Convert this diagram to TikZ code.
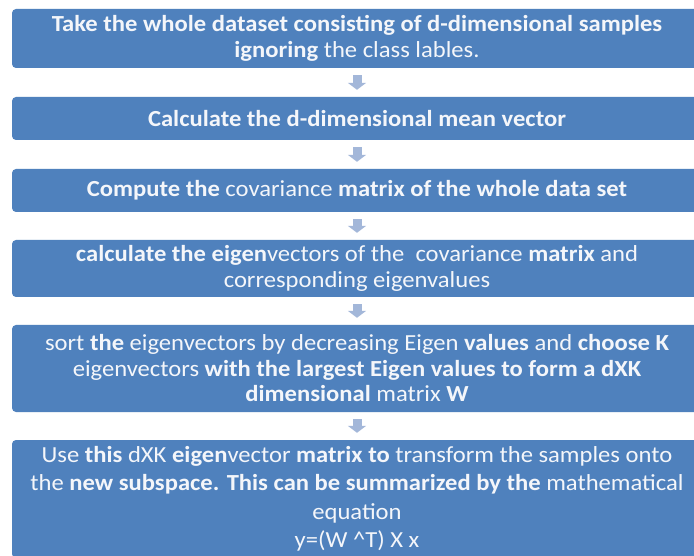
\documentclass[tikz,border=0pt]{standalone}
\usepackage{fontspec}
\setmainfont{Carlito}[FakeStretch=1.07]
\usetikzlibrary{arrows.meta}
\definecolor{boxblue}{HTML}{4F81BD}
\definecolor{arrowblue}{HTML}{A3B7D9}
\definecolor{txt}{HTML}{F4F6FA}
\begin{document}
\begin{tikzpicture}[x=1pt,y=-1pt,
  box/.style={fill=boxblue, rounded corners=4pt, minimum width=690pt, inner sep=0pt,
    text=txt, align=center, font=\fontsize{23}{25.5}\selectfont},
  bigbox/.style={box, font=\fontsize{23}{28.5}\selectfont},
  flowarrow/.style={draw=arrowblue, line width=9pt, shorten <=7pt, shorten >=7pt,
    -{Triangle[width=18pt,length=7pt]}}]
\useasboundingbox (0,0) rectangle (694,556);
\clip (0,0) rectangle (694,556);
\fill[white] (0,0) rectangle (694,556);
\node[box, minimum height=59pt] (b1) at (357,38.5)
  {\textbf{Take the whole dataset consisting of d-dimensional samples}\\
   \textbf{ignoring} the class lables.};
\node[box, minimum height=43pt] (b2) at (357,118.5)
  {\textbf{Calculate the d-dimensional mean vector}};
\node[box, minimum height=43pt] (b3) at (357,190.5)
  {\textbf{Compute the} covariance \textbf{matrix of the whole data set}};
\node[box, minimum height=57pt] (b4) at (357,268.5)
  {\textbf{calculate the eigen}vectors of the\ \ covariance \textbf{matrix} and\\
   corresponding eigenvalues};
\node[box, minimum height=87pt] (b5) at (357,368.5)
  {sort \textbf{the} eigenvectors by decreasing Eigen \textbf{values} and \textbf{choose K}\\
   eigenvectors \textbf{with the largest Eigen values to form a dXK}\\
   \textbf{dimensional} matrix \textbf{W}};
\node[bigbox, minimum height=118pt] (b6) at (357,499)
  {Use \textbf{this} dXK \textbf{eigen}vector \textbf{matrix to} transform the samples onto\\
   the \textbf{new subspace. This can be summarized by the} mathematical\\
   equation\\
   y=(W \^{}T) X x};
\draw[flowarrow] (b1.south) -- (b2.north);
\draw[flowarrow] (b2.south) -- (b3.north);
\draw[flowarrow] (b3.south) -- (b4.north);
\draw[flowarrow] (b4.south) -- (b5.north);
\draw[flowarrow] (b5.south) -- (b6.north);
\end{tikzpicture}
\end{document}
